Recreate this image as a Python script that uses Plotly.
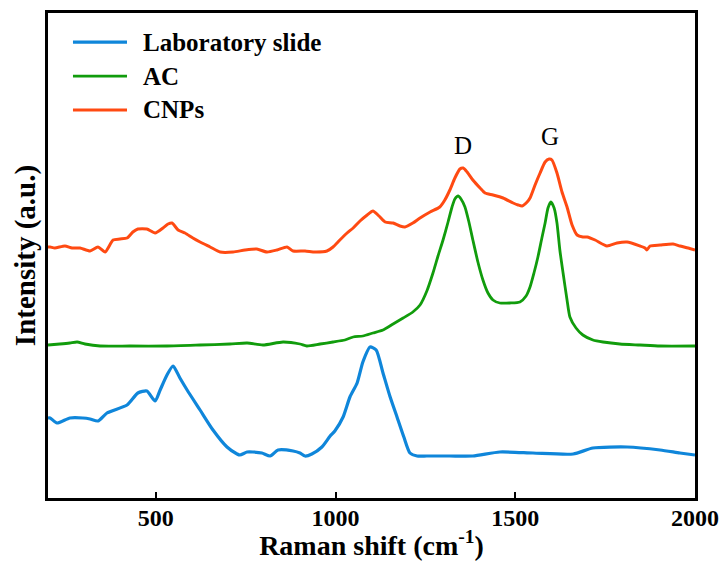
import plotly.graph_objects as go

# Raman spectra (arbitrary intensity units, traces offset vertically)
slide_shift = [200, 206, 225, 261, 297, 317, 339, 364, 420, 450, 475, 498, 512, 531, 548,
               567, 587, 623, 659, 698, 726, 734, 754, 770, 795, 818, 840, 882, 901, 915,
               934, 962, 985, 998, 1021, 1040, 1060, 1076, 1096, 1113, 1132, 1151, 1171,
               1190, 1207, 1227, 1254, 1318, 1382, 1457, 1549, 1661, 1716, 1811, 1903,
               1958, 2000]
slide_int = [80, 80, 75, 80, 80, 79, 77, 85, 93, 105, 107, 97, 108, 123, 132,
             120, 108, 88, 68, 51, 44, 43, 46, 46, 45, 42, 48, 47, 45, 42,
             44, 51, 62, 67, 81, 101, 115, 136, 151, 148, 125, 102, 81,
             61, 45, 42, 42, 42, 42, 46, 45, 44, 50, 51, 48,
             45, 43]

ac_shift = [200, 233, 261, 281, 303, 345, 428, 531, 623, 706, 754, 798, 854, 901, 920,
            957, 993, 1026, 1049, 1076, 1104, 1132, 1160, 1188, 1215, 1235, 1254, 1271,
            1285, 1299, 1313, 1324, 1332, 1341, 1349, 1360, 1371, 1382, 1396, 1410, 1424,
            1438, 1457, 1485, 1513, 1530, 1541, 1552, 1563, 1574, 1583, 1591, 1599, 1608,
            1616, 1624, 1633, 1644, 1652, 1669, 1688, 1716, 1744, 1791, 1847, 1903, 2000]
ac_int = [153, 154, 155, 156, 154, 152, 152, 152, 153, 154, 155, 153, 156, 154, 152,
          154, 156, 158, 161, 162, 165, 168, 174, 180, 186, 193, 207, 225,
          242, 258, 276, 291, 299, 302, 299, 291, 276, 258, 236, 218, 205,
          198, 195, 195, 196, 202, 211, 225, 241, 260, 275, 290, 296, 290,
          275, 248, 225, 198, 181, 170, 163, 158, 156, 154, 153, 152, 152]

cnp_shift = [200, 206, 219, 247, 267, 289, 317, 339, 359, 381, 400, 420, 436, 450, 475,
             498, 520, 534, 545, 562, 581, 603, 623, 651, 679, 715, 748, 781, 809, 837,
             865, 882, 915, 943, 976, 993, 1012, 1032, 1049, 1068, 1088, 1104, 1121, 1138,
             1160, 1179, 1193, 1215, 1235, 1263, 1290, 1304, 1318, 1332, 1346, 1355, 1366,
             1382, 1402, 1416, 1438, 1466, 1494, 1508, 1519, 1533, 1541, 1555, 1569, 1583,
             1594, 1602, 1616, 1630, 1644, 1658, 1672, 1688, 1700, 1722, 1755, 1783, 1811,
             1847, 1861, 1866, 1875, 1903, 1939, 1958, 1981, 2000]
cnp_int = [251, 251, 250, 252, 250, 250, 247, 251, 246, 258, 259, 260, 266, 269, 269,
           265, 270, 274, 275, 268, 265, 260, 256, 251, 246, 246, 248, 249, 246, 248,
           251, 247, 247, 246, 247, 251, 258, 265, 270, 277, 283, 287, 282, 276,
           275, 272, 271, 275, 280, 286, 291, 298, 308, 320, 329, 330, 326,
           318, 310, 305, 303, 300, 295, 293, 292, 296, 300, 313, 325, 336,
           339, 338, 325, 306, 291, 273, 263, 261, 261, 258, 252, 255, 256,
           252, 250, 248, 252, 253, 254, 252, 250, 248]

series_names = ["Laboratory slide", "AC", "CNPs"]
series_colors = ["#0F86DA", "#119C0C", "#FF4A12"]

# Band labels
band_labels = ["D", "G"]
band_shift = [1355, 1597]
band_int = [353, 362]

SERIF = "Liberation Serif"

fig = go.Figure()
data = [(slide_shift, slide_int), (ac_shift, ac_int), (cnp_shift, cnp_int)]
widths = [3.2, 2.8, 3.0]
for (xs, ys), name, color, w in zip(data, series_names, series_colors, widths):
    fig.add_trace(go.Scatter(x=xs, y=ys, mode="lines", name=name,
                             line=dict(color=color, width=w, shape="spline",
                                       smoothing=0.6),
                             showlegend=False))

# Legend drawn by hand so the sample lines can be longer than the default
legend_y = [0.940, 0.870, 0.800]
for name, color, ly, w in zip(series_names, series_colors, legend_y, widths):
    fig.add_shape(type="line", xref="paper", yref="paper",
                  x0=0.0386, x1=0.1221, y0=ly, y1=ly,
                  line=dict(color=color, width=w))
    fig.add_annotation(x=0.1437, y=ly, xref="paper", yref="paper",
                       text=f"<b>{name}</b>", showarrow=False,
                       xanchor="left", yanchor="middle",
                       font=dict(family=SERIF, size=25, color="black"))

for t, bx, by in zip(band_labels, band_shift, band_int):
    fig.add_annotation(x=bx, y=by, text=t, showarrow=False,
                       font=dict(family=SERIF, size=25, color="black"))

fig.update_layout(
    width=720, height=561,
    margin=dict(l=48, r=25, t=13, b=63),
    paper_bgcolor="white", plot_bgcolor="white",
    font=dict(family=SERIF, color="black"),
    xaxis=dict(range=[200, 2000], tickvals=[500, 1000, 1500, 2000],
               ticks="inside", ticklen=6, tickwidth=2, tickcolor="black",
               showline=True, linewidth=2.5, linecolor="black", mirror=True,
               showgrid=False, zeroline=False,
               tickfont=dict(family=SERIF, size=24, color="black", weight="bold"),
               ticklabelstandoff=-4,
               title=dict(text="<b>Raman shift (cm<sup>-1</sup>)</b>", standoff=5,
                          font=dict(family=SERIF, size=28, color="black")),
               automargin=False),
    yaxis=dict(range=[0, 485], showticklabels=False, ticks="",
               showline=True, linewidth=2.5, linecolor="black", mirror=True,
               showgrid=False, zeroline=False,
               title=dict(text="<b>Intensity (a.u.)</b>", standoff=2,
                          font=dict(family=SERIF, size=29, color="black")),
               automargin=False),
)

fig.write_html("out.html")
